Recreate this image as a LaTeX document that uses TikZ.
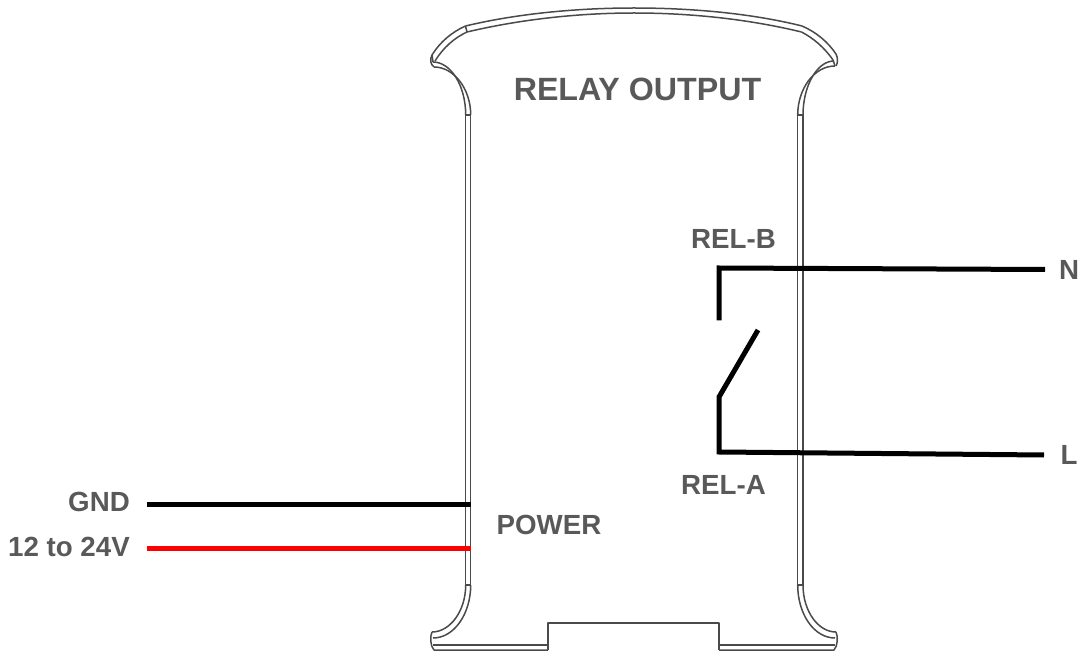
\documentclass[tikz,border=0pt]{standalone}
\usepackage{fontspec}
\setmainfont{Liberation Sans}
\definecolor{lab}{HTML}{595959}
\definecolor{body}{HTML}{4A4A4A}
\tikzset{
 x=1pt,y=-1pt,
 outline/.style={draw=body,line width=1.5pt,line join=round},
 wire/.style={draw=black,line width=5pt,line join=miter},
 redwire/.style={draw=red,line width=5pt},
 lbl/.style={text=lab,font=\bfseries\fontsize{27.7}{28}\selectfont,inner sep=0pt},
 title/.style={text=lab,font=\bfseries\fontsize{32.2}{32}\selectfont,inner sep=0pt}
}
\begin{document}
\begin{tikzpicture}
\useasboundingbox (0,0) rectangle (1085,652);
% body
\draw[outline] (465.7,115) -- (465.7,585);
\draw[outline] (470.7,115) -- (470.7,585);
\draw[outline] (797.7,115) -- (797.7,585);
\draw[outline] (803,115) -- (803,585);
\draw[outline] (465.7,115) -- (470.7,115);
\draw[outline] (465.7,585) -- (470.7,585);
\draw[outline] (797.7,115) -- (803,115);
\draw[outline] (797.7,585) -- (803,585);
% top left
\draw[outline] (465.7,115) .. controls (465.7,86) and (451,62) .. (433,62);
\draw[outline] (470.7,115) .. controls (470.7,89) and (454,67) .. (434,67);
\draw[outline] (434,67) .. controls (430,64) and (430,59) .. (432,55) .. controls (440,42) and (452,32) .. (465.5,26);
\draw[outline] (435,61) .. controls (443,48) and (454,38) .. (467,32);
\draw[outline] (465.5,26) -- (467,32);
\draw[outline] (465.5,26) .. controls (520,13) and (580,8) .. (634,8) .. controls (690,8) and (750,13) .. (802,26);
\draw[outline] (467,32) .. controls (522,19) and (580,13) .. (634,13) .. controls (690,13) and (748,19) .. (801.5,32);
% top right
\draw[outline] (802,26) .. controls (816,32) and (828,42) .. (836,54) .. controls (838,58) and (838,63) .. (836,66);
\draw[outline] (801.5,32) .. controls (813,38) and (824,47) .. (833,60);
\draw[outline] (797.7,115) .. controls (797.7,89) and (814,66) .. (835,66);
\draw[outline] (803,115) .. controls (803,86) and (817,61) .. (834,61);
\draw[outline] (833,60) -- (835,66);
\draw[outline] (432,55) -- (433,62);
% bottom left
\draw[outline] (465.7,585) .. controls (465.7,611) and (450,632) .. (432,632);
\draw[outline] (470.7,585) .. controls (470.7,614) and (454,638) .. (433,638);
\draw[outline] (432,632) .. controls (430,636) and (430,646) .. (434,650) -- (548,650);
\draw[outline] (433,645) -- (548,645);
\draw[outline] (548,650) -- (548,623) -- (719,623) -- (719,650);
% bottom right
\draw[outline] (719,645) -- (835,645);
\draw[outline] (719,650) -- (834,650) .. controls (838,646) and (838,636) .. (836,632);
\draw[outline] (803,585) .. controls (803,611) and (818,632) .. (836,632);
\draw[outline] (797.7,585) .. controls (797.7,614) and (814,638) .. (835,638);
% wire anchors
\coordinate (gndA) at (147,504);
\coordinate (gndB) at (470.7,504);
\coordinate (vA) at (147,548.5);
\coordinate (vB) at (470.7,548.5);
\coordinate (b1) at (719,320.5);
\coordinate (b2) at (719,268);
\coordinate (b3) at (1045,269.5);
\coordinate (s1) at (758,330);
\coordinate (s2) at (719,397);
\coordinate (s3) at (719,452);
\coordinate (s4) at (1044,455);
\draw[wire] (gndA) -- (gndB);
\draw[redwire] (vA) -- (vB);
\draw[wire] (b1) -- (b2) -- (b3);
\draw[wire] (s1) -- (s2) -- (s3) -- (s4);
% labels
\node[title] (t) at (637.5,89.5) {RELAY OUTPUT};
\node[lbl] (relb) at (733.5,239) {REL-B};
\node[lbl] (rela) at (723.5,485) {REL-A};
\node[lbl] (n) at (1069,270) {N};
\node[lbl] (l) at (1069,455) {L};
\node[lbl] (pw) at (549,524.5) {POWER};
\node[lbl,anchor=east] (gnd) at (130,502) {GND};
\node[lbl,anchor=east] (v) at (130,547) {12 to 24V};
\end{tikzpicture}
\end{document}
